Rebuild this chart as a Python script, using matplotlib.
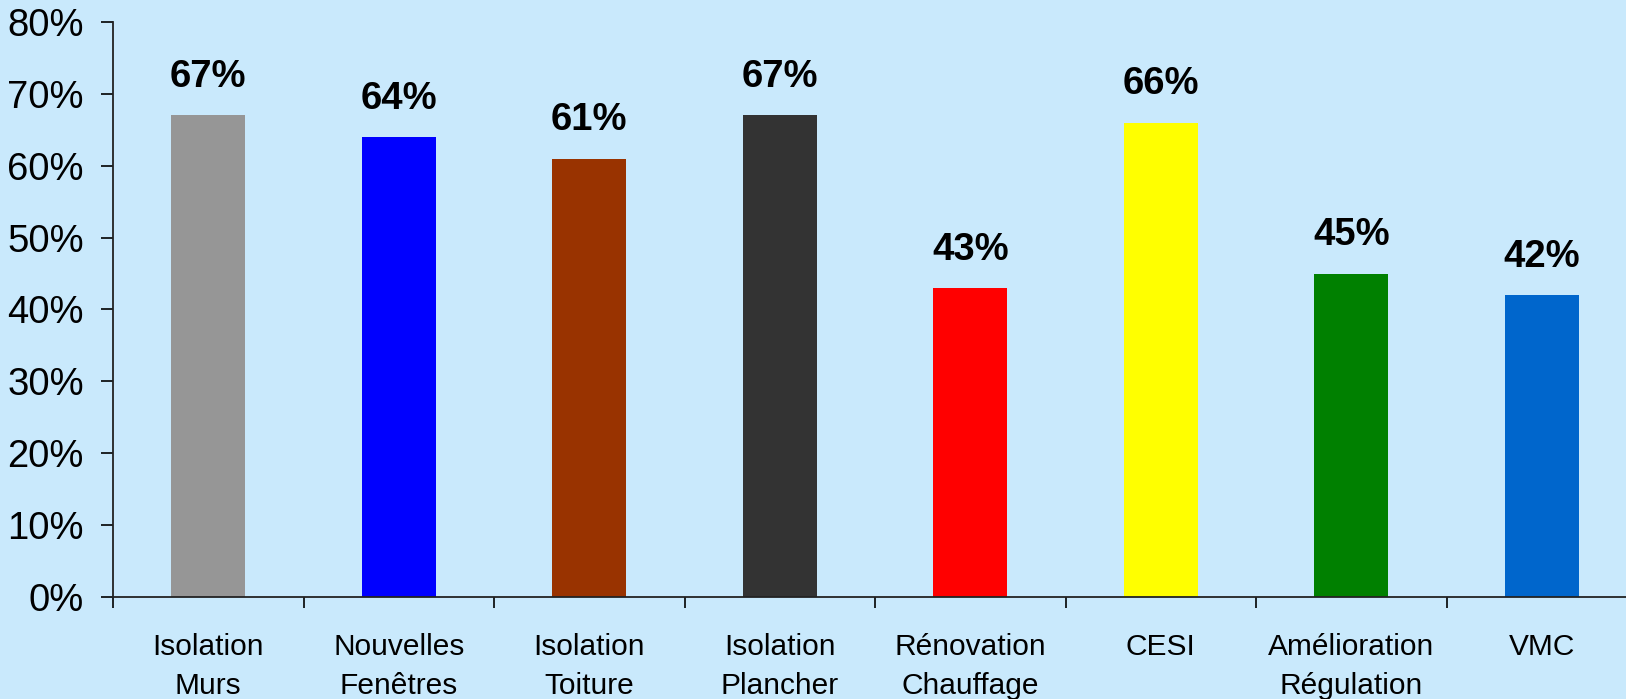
import matplotlib
matplotlib.use('Agg')
import matplotlib.pyplot as plt
import numpy as np

# Data
categories = ['Isolation\nMurs', 'Nouvelles\nFenêtres', 'Isolation\nToiture', 'Isolation\nPlancher',
              'Rénovation\nChauffage', 'CESI', 'Amélioration\nRégulation', 'VMC']
values = [67, 64, 61, 67, 43, 66, 45, 42]
colors = ['#969696', '#0000ff', '#993300', '#333333', '#ff0000', '#ffff00', '#008000', '#0066cc']
yticks = [0, 10, 20, 30, 40, 50, 60, 70, 80]

bg = '#c9e9fc'
plt.rcParams['font.family'] = ['Liberation Sans', 'DejaVu Sans']

fig = plt.figure(figsize=(16.26, 6.99), dpi=100, facecolor=bg)
#Axes placed so that the x axis runs off the right edge like the original
ax = fig.add_axes([113/1626, 102/699, 8*190.5/1626, 575/699])
ax.set_facecolor(bg)

x = np.arange(len(categories))
bars = ax.bar(x, values, width=0.39, color=colors)

#Value labels above bars
for bar, v in zip(bars, values):
    ax.text(bar.get_x() + bar.get_width()/2, v + 2.8, f'{v}%', ha='center', va='bottom',
            fontsize=27.5, fontweight='bold')

ax.set_xlim(-0.5, len(categories) - 0.5)
ax.set_ylim(0, 80)
ax.set_yticks(yticks)
ax.set_yticklabels([f'{t}%' for t in yticks], fontsize=27.5)

#Boundary ticks as major, labels at bar centers as minor
ax.set_xticks(np.arange(len(categories) + 1) - 0.5)
ax.set_xticklabels([])
ax.set_xticks(x, minor=True)
ax.set_xticklabels(categories, minor=True, fontsize=21.5, linespacing=1.5)
ax.tick_params(axis='x', which='major', length=8, width=1.2, direction='out')
ax.tick_params(axis='x', which='minor', length=0, pad=26)
ax.tick_params(axis='y', length=9, width=1.2, pad=12)

for s in ['top', 'right']:
    ax.spines[s].set_visible(False)
for s in ['left', 'bottom']:
    ax.spines[s].set_linewidth(1.3)
    ax.spines[s].set_color('#222222')

fig.savefig('out.png', dpi=100, facecolor=bg)
plt.close()
